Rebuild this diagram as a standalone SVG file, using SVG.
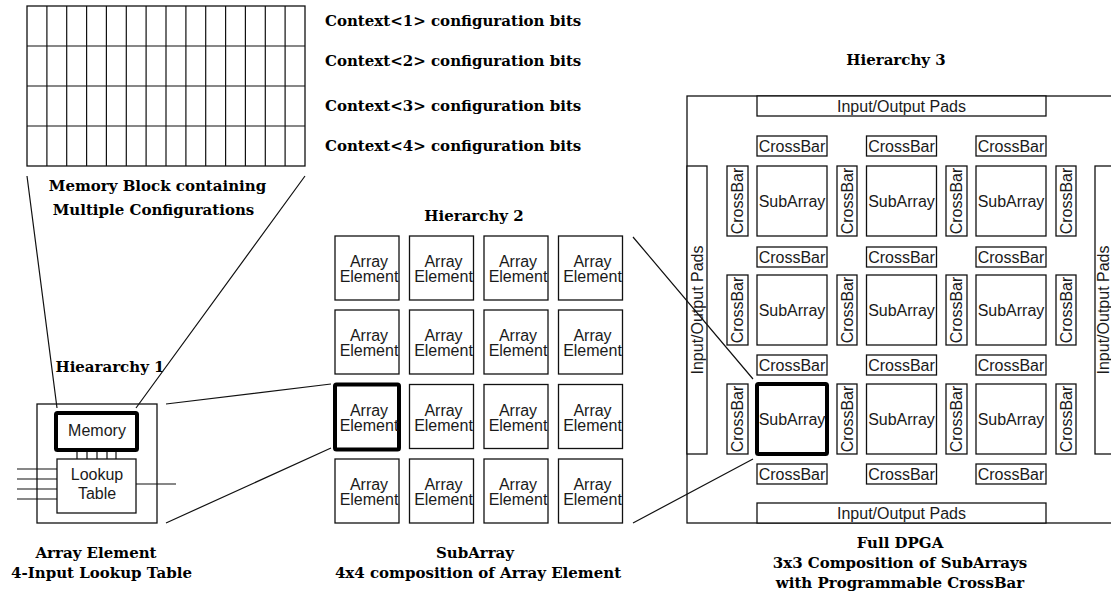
<svg xmlns="http://www.w3.org/2000/svg" width="1111" height="606" viewBox="0 0 1111 606">
  <style>
    .bx { fill: #fff; stroke: #111; stroke-width: 1.3; }
    .thick { fill: #fff; stroke: #000; stroke-width: 4; stroke-linejoin: round; }
    .ln { stroke: #111; stroke-width: 1.2; fill: none; }
    .sans { font-family: "Liberation Sans", Arial, sans-serif; font-size: 16px; fill: #1a1a1a; text-anchor: middle; }
    .ser { font-family: "DejaVu Serif", "Liberation Serif", serif; font-weight: bold; font-size: 15px; fill: #000; }
    .mid { text-anchor: middle; }
  </style>
  <rect width="1111" height="606" fill="#fff"/>

  <!-- Memory block: 4 contexts x 14 bits -->
  <g id="memory-block">
    <rect class="bx" x="27" y="6" width="278" height="160"/>
    <path class="ln" d="M27 46H305M27 86H305M27 126H305
      M46.9 6V166M66.7 6V166M86.6 6V166M106.4 6V166M126.3 6V166M146.1 6V166M166 6V166
      M185.9 6V166M205.7 6V166M225.6 6V166M245.4 6V166M265.3 6V166M285.1 6V166"/>
    <text class="ser mid" x="157.5" y="191">Memory Block containing</text>
    <text class="ser mid" x="153.5" y="215">Multiple Configurations</text>
  </g>

  <g id="context-labels">
    <text class="ser" x="325" y="26">Context&lt;1&gt; configuration bits</text>
    <text class="ser" x="325" y="66">Context&lt;2&gt; configuration bits</text>
    <text class="ser" x="325" y="111">Context&lt;3&gt; configuration bits</text>
    <text class="ser" x="325" y="151">Context&lt;4&gt; configuration bits</text>
  </g>

  <!-- Hierarchy 1: array element -->
  <g id="array-element">
    <text class="ser mid" x="110" y="372">Hieararchy 1</text>
    <rect class="bx" x="37" y="404" width="120" height="119"/>
    <path class="ln" d="M17 469H57M17 479H57M17 489H57M17 499H57M136 484H176
      M77 450V459M87 450V459M97 450V459M107 450V459M116 450V459"/>
    <rect class="bx" x="57" y="459" width="79" height="54"/>
    <text class="sans" x="97" y="480">Lookup</text>
    <text class="sans" x="97" y="499">Table</text>
    <rect class="thick" x="56" y="413" width="81" height="37" rx="1.5"/>
    <text class="sans" x="97" y="436">Memory</text>
    <text class="ser mid" x="96" y="558">Array Element</text>
    <text class="ser mid" x="101.5" y="578">4-Input Lookup Table</text>
  </g>

  <!-- Hierarchy 2: 4x4 subarray -->
  <g id="subarray">
    <text class="ser mid" x="474" y="221">Hierarchy 2</text>
    <g id="ae-r1">
      <rect class="bx" x="335" y="236" width="64" height="64"/><text class="sans" x="369" y="267">Array</text><text class="sans" x="369" y="282">Element</text>
      <rect class="bx" x="409.5" y="236" width="64" height="64"/><text class="sans" x="443.5" y="267">Array</text><text class="sans" x="443.5" y="282">Element</text>
      <rect class="bx" x="484" y="236" width="64" height="64"/><text class="sans" x="518" y="267">Array</text><text class="sans" x="518" y="282">Element</text>
      <rect class="bx" x="558.5" y="236" width="64" height="64"/><text class="sans" x="592.5" y="267">Array</text><text class="sans" x="592.5" y="282">Element</text>
    </g>
    <g id="ae-r2">
      <rect class="bx" x="335" y="310" width="64" height="64"/><text class="sans" x="369" y="341">Array</text><text class="sans" x="369" y="356">Element</text>
      <rect class="bx" x="409.5" y="310" width="64" height="64"/><text class="sans" x="443.5" y="341">Array</text><text class="sans" x="443.5" y="356">Element</text>
      <rect class="bx" x="484" y="310" width="64" height="64"/><text class="sans" x="518" y="341">Array</text><text class="sans" x="518" y="356">Element</text>
      <rect class="bx" x="558.5" y="310" width="64" height="64"/><text class="sans" x="592.5" y="341">Array</text><text class="sans" x="592.5" y="356">Element</text>
    </g>
    <g id="ae-r3">
      <rect class="thick" x="335" y="384.5" width="64" height="65" rx="1.5"/><text class="sans" x="369" y="416">Array</text><text class="sans" x="369" y="431">Element</text>
      <rect class="bx" x="409.5" y="384.5" width="64" height="64"/><text class="sans" x="443.5" y="416">Array</text><text class="sans" x="443.5" y="431">Element</text>
      <rect class="bx" x="484" y="384.5" width="64" height="64"/><text class="sans" x="518" y="416">Array</text><text class="sans" x="518" y="431">Element</text>
      <rect class="bx" x="558.5" y="384.5" width="64" height="64"/><text class="sans" x="592.5" y="416">Array</text><text class="sans" x="592.5" y="431">Element</text>
    </g>
    <g id="ae-r4">
      <rect class="bx" x="335" y="459" width="64" height="64"/><text class="sans" x="369" y="490">Array</text><text class="sans" x="369" y="505">Element</text>
      <rect class="bx" x="409.5" y="459" width="64" height="64"/><text class="sans" x="443.5" y="490">Array</text><text class="sans" x="443.5" y="505">Element</text>
      <rect class="bx" x="484" y="459" width="64" height="64"/><text class="sans" x="518" y="490">Array</text><text class="sans" x="518" y="505">Element</text>
      <rect class="bx" x="558.5" y="459" width="64" height="64"/><text class="sans" x="592.5" y="490">Array</text><text class="sans" x="592.5" y="505">Element</text>
    </g>
    <text class="ser mid" x="475" y="558">SubArray</text>
    <text class="ser mid" x="478" y="578">4x4 composition of Array Element</text>
  </g>

  <!-- Hierarchy 3: full DPGA -->
  <g id="dpga">
    <text class="ser mid" x="896" y="65">Hierarchy 3</text>
    <rect class="bx" x="687" y="96" width="440" height="427"/>
    <rect class="bx" x="757" y="96" width="289" height="20"/>
    <text class="sans" x="901.5" y="111.5">Input/Output Pads</text>
    <rect class="bx" x="757" y="503" width="289" height="20"/>
    <text class="sans" x="901.5" y="518.5">Input/Output Pads</text>
    <rect class="bx" x="687" y="166" width="20" height="288"/>
    <text class="sans" transform="translate(697 310) rotate(-90)" y="5.7">Input/Output Pads</text>
    <rect class="bx" x="1095" y="166" width="20" height="288"/>
    <text class="sans" transform="translate(1103.5 310) rotate(-90)" y="5.7">Input/Output Pads</text>

    <g id="h-crossbars">
      <rect class="bx" x="757" y="136" width="70" height="20"/><text class="sans" x="792" y="151.7">CrossBar</text>
      <rect class="bx" x="866.5" y="136" width="70" height="20"/><text class="sans" x="901.5" y="151.7">CrossBar</text>
      <rect class="bx" x="976" y="136" width="70" height="20"/><text class="sans" x="1011" y="151.7">CrossBar</text>
      <rect class="bx" x="757" y="247" width="70" height="20"/><text class="sans" x="792" y="262.7">CrossBar</text>
      <rect class="bx" x="866.5" y="247" width="70" height="20"/><text class="sans" x="901.5" y="262.7">CrossBar</text>
      <rect class="bx" x="976" y="247" width="70" height="20"/><text class="sans" x="1011" y="262.7">CrossBar</text>
      <rect class="bx" x="757" y="355" width="70" height="20"/><text class="sans" x="792" y="370.7">CrossBar</text>
      <rect class="bx" x="866.5" y="355" width="70" height="20"/><text class="sans" x="901.5" y="370.7">CrossBar</text>
      <rect class="bx" x="976" y="355" width="70" height="20"/><text class="sans" x="1011" y="370.7">CrossBar</text>
      <rect class="bx" x="757" y="464" width="70" height="20"/><text class="sans" x="792" y="479.7">CrossBar</text>
      <rect class="bx" x="866.5" y="464" width="70" height="20"/><text class="sans" x="901.5" y="479.7">CrossBar</text>
      <rect class="bx" x="976" y="464" width="70" height="20"/><text class="sans" x="1011" y="479.7">CrossBar</text>
    </g>

    <g id="v-crossbars">
      <rect class="bx" x="727" y="166" width="21" height="70"/><text class="sans" transform="translate(737.5 201) rotate(-90)" y="5.7">CrossBar</text>
      <rect class="bx" x="837" y="166" width="20" height="70"/><text class="sans" transform="translate(847 201) rotate(-90)" y="5.7">CrossBar</text>
      <rect class="bx" x="946" y="166" width="21" height="70"/><text class="sans" transform="translate(956.5 201) rotate(-90)" y="5.7">CrossBar</text>
      <rect class="bx" x="1056" y="166" width="20" height="70"/><text class="sans" transform="translate(1066 201) rotate(-90)" y="5.7">CrossBar</text>
      <rect class="bx" x="727" y="275" width="21" height="70"/><text class="sans" transform="translate(737.5 310) rotate(-90)" y="5.7">CrossBar</text>
      <rect class="bx" x="837" y="275" width="20" height="70"/><text class="sans" transform="translate(847 310) rotate(-90)" y="5.7">CrossBar</text>
      <rect class="bx" x="946" y="275" width="21" height="70"/><text class="sans" transform="translate(956.5 310) rotate(-90)" y="5.7">CrossBar</text>
      <rect class="bx" x="1056" y="275" width="20" height="70"/><text class="sans" transform="translate(1066 310) rotate(-90)" y="5.7">CrossBar</text>
      <rect class="bx" x="727" y="384" width="21" height="70"/><text class="sans" transform="translate(737.5 419) rotate(-90)" y="5.7">CrossBar</text>
      <rect class="bx" x="837" y="384" width="20" height="70"/><text class="sans" transform="translate(847 419) rotate(-90)" y="5.7">CrossBar</text>
      <rect class="bx" x="946" y="384" width="21" height="70"/><text class="sans" transform="translate(956.5 419) rotate(-90)" y="5.7">CrossBar</text>
      <rect class="bx" x="1056" y="384" width="20" height="70"/><text class="sans" transform="translate(1066 419) rotate(-90)" y="5.7">CrossBar</text>
    </g>

    <g id="subarrays">
      <rect class="bx" x="757" y="166" width="70" height="70"/><text class="sans" x="792" y="206.7">SubArray</text>
      <rect class="bx" x="866.5" y="166" width="70" height="70"/><text class="sans" x="901.5" y="206.7">SubArray</text>
      <rect class="bx" x="976" y="166" width="70" height="70"/><text class="sans" x="1011" y="206.7">SubArray</text>
      <rect class="bx" x="757" y="275" width="70" height="70"/><text class="sans" x="792" y="315.7">SubArray</text>
      <rect class="bx" x="866.5" y="275" width="70" height="70"/><text class="sans" x="901.5" y="315.7">SubArray</text>
      <rect class="bx" x="976" y="275" width="70" height="70"/><text class="sans" x="1011" y="315.7">SubArray</text>
      <rect class="thick" x="757" y="384" width="70" height="70" rx="1.5"/><text class="sans" x="792" y="424.7">SubArray</text>
      <rect class="bx" x="866.5" y="384" width="70" height="70"/><text class="sans" x="901.5" y="424.7">SubArray</text>
      <rect class="bx" x="976" y="384" width="70" height="70"/><text class="sans" x="1011" y="424.7">SubArray</text>
    </g>

    <text class="ser mid" x="900" y="548">Full DPGA</text>
    <text class="ser mid" x="900" y="568">3x3 Composition of SubArrays</text>
    <text class="ser mid" x="900" y="588">with Programmable CrossBar</text>
  </g>

  <!-- zoom-out lines between hierarchy levels -->
  <g id="connectors">
    <path class="ln" d="M27 176L57 408M305 176L136 408"/>
    <path class="ln" d="M166 404L331 384M166 523L331 448"/>
    <path class="ln" d="M633 237L753 379M633 523L753 459"/>
  </g>
</svg>
